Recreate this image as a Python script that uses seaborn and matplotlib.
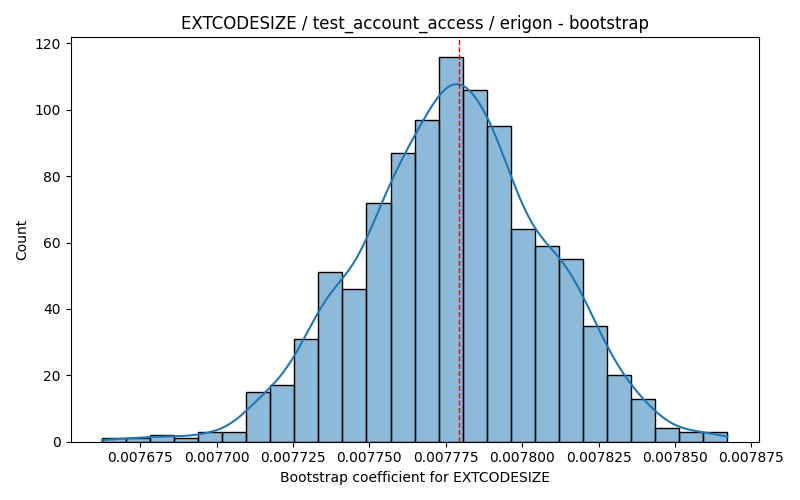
import matplotlib
matplotlib.use("Agg")
import matplotlib.pyplot as plt
from matplotlib.ticker import MultipleLocator
import seaborn as sns
import numpy as np
import pandas as pd

# Histogram counts (26 bins)
counts = [1, 1, 2, 1, 3, 3, 15, 17, 31, 51, 46, 72, 87, 97, 116, 106, 95,
          64, 59, 55, 35, 20, 13, 4, 3, 3]
x_min = 0.0076625
x_max = 0.0078671
point_estimate = 0.0077793

n_bins = len(counts)
edges = np.linspace(x_min, x_max, n_bins + 1)
centers = (edges[:-1] + edges[1:]) / 2
df = pd.DataFrame({"coef": centers, "count": counts})

# KDE smoothing; seaborn sizes the evaluation grid from the unweighted
# observations, so choose `cut` so the curve ends at the outer bin edges
bw_adjust = 0.37
support_bw = bw_adjust * n_bins ** (-0.2) * np.std(centers, ddof=1)
cut = (edges[1] - edges[0]) / 2 / support_bw

fig, ax = plt.subplots(figsize=(8, 5), dpi=100)
sns.histplot(data=df, x="coef", weights="count", bins=n_bins,
             binrange=(x_min, x_max), kde=True,
             kde_kws={"bw_adjust": bw_adjust, "cut": cut}, ax=ax)
ax.axvline(point_estimate, color="red", linestyle="--", linewidth=1)
ax.xaxis.set_major_locator(MultipleLocator(0.000025))
ax.set_title("EXTCODESIZE / test_account_access / erigon - bootstrap")
ax.set_xlabel("Bootstrap coefficient for EXTCODESIZE")
ax.set_ylabel("Count")
fig.tight_layout()
fig.savefig("out.png", dpi=100)
